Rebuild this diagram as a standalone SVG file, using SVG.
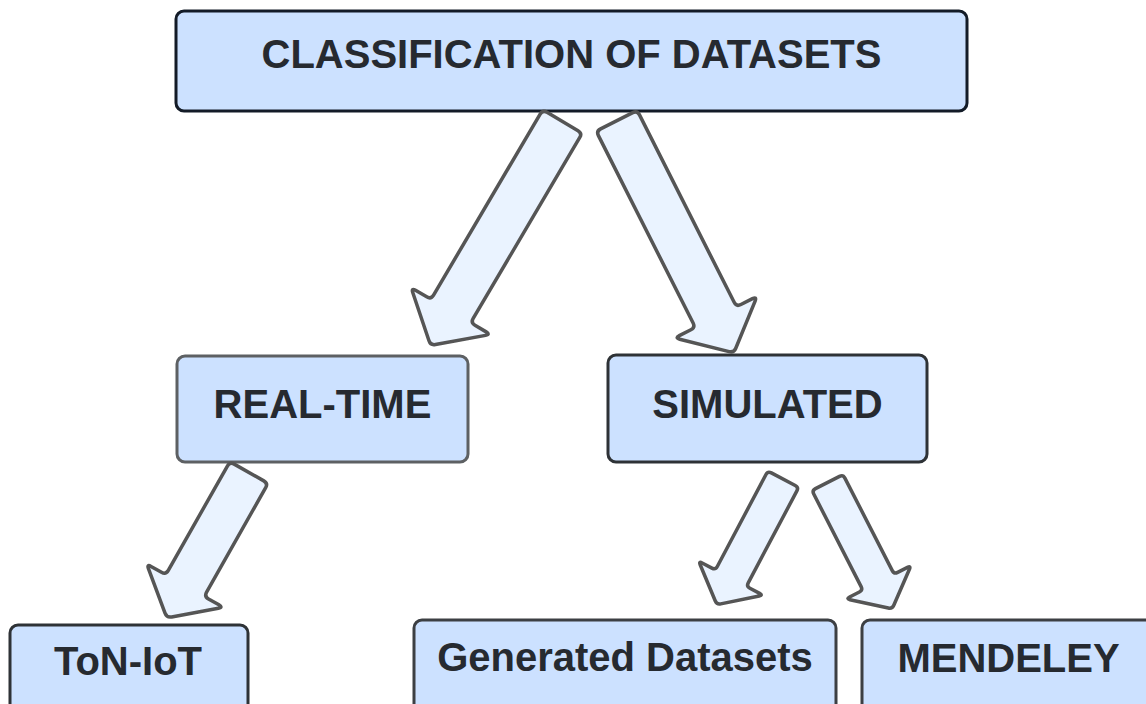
<svg xmlns="http://www.w3.org/2000/svg" width="1146" height="704" viewBox="0 0 1146 704">
  <style>
    .box { fill: #cce1ff; stroke-width: 3; }
    .label { font-family: "Liberation Sans", Arial, sans-serif; font-weight: bold; font-size: 40px; fill: #262a30; text-anchor: middle; }
    .arrow { fill: #eaf3ff; stroke: #555555; stroke-width: 3.5; stroke-linejoin: round; }
  </style>
  <defs>
    <!-- block arrows, drawn pointing along +y with the tail centred on the origin -->
    <path id="arrow-lg" d="M -18,0 L 18,0 Q 23,0 23,5 L 23,215 Q 23,220 28,220 L 41,220 Q 46,220 42.26,223.32 L 3.74,256.68 Q 0,260 -3.74,256.68 L -42.26,223.32 Q -46,220 -41,220 L -28,220 Q -23,220 -23,215 L -23,5 Q -23,0 -18,0 Z"/>
    <path id="arrow-md" d="M -17,0 L 17,0 Q 22,0 22,5 L 22,125 Q 22,130 27,130 L 39,130 Q 44,130 40.17,133.22 L 3.83,163.78 Q 0,167 -3.83,163.78 L -40.17,133.22 Q -44,130 -39,130 L -27,130 Q -22,130 -22,125 L -22,5 Q -22,0 -17,0 Z"/>
    <path id="arrow-sm" d="M -13.5,0 L 13.5,0 Q 17.5,0 17.5,4 L 17.5,108 Q 17.5,112 21.5,112 L 32.5,112 Q 36.5,112 33.41,114.54 L 3.09,139.46 Q 0,142 -3.09,139.46 L -33.41,114.54 Q -36.5,112 -32.5,112 L -21.5,112 Q -17.5,112 -17.5,108 L -17.5,4 Q -17.5,0 -13.5,0 Z"/>
  </defs>

  <rect width="1146" height="704" fill="#ffffff"/>

  <g id="node-classification">
    <rect class="box" x="176" y="11" width="791" height="100" rx="8" stroke="#131b27"/>
    <text class="label" x="571.5" y="68">CLASSIFICATION OF DATASETS</text>
  </g>

  <g id="node-real-time">
    <rect class="box" x="177" y="356" width="291" height="106" rx="8" stroke="#5d6063"/>
    <text class="label" x="322.5" y="418">REAL-TIME</text>
  </g>

  <g id="node-simulated">
    <rect class="box" x="608" y="355" width="319" height="107" rx="8" stroke="#2e3236"/>
    <text class="label" x="767.5" y="418">SIMULATED</text>
  </g>

  <g id="node-ton-iot">
    <rect class="box" x="10" y="625" width="238" height="100" rx="8" stroke="#2e3236"/>
    <text class="label" x="128" y="675">ToN-IoT</text>
  </g>

  <g id="node-generated">
    <rect class="box" x="414" y="620" width="422" height="100" rx="8" stroke="#3c3f43"/>
    <text class="label" x="625" y="671">Generated Datasets</text>
  </g>

  <g id="node-mendeley">
    <rect class="box" x="862" y="620" width="300" height="100" rx="8" stroke="#3c3f43"/>
    <text class="label" x="1008.5" y="672">MENDELEY</text>
  </g>

  <g id="connectors">
    <use href="#arrow-lg" class="arrow" transform="translate(562.5,121.5) rotate(30.5)"/>
    <use href="#arrow-lg" class="arrow" transform="translate(616.7,120.8) rotate(-26.8)"/>
    <use href="#arrow-md" class="arrow" transform="translate(249,472.5) rotate(29.5)"/>
    <use href="#arrow-sm" class="arrow" transform="translate(783.3,479.2) rotate(27.9)"/>
    <use href="#arrow-sm" class="arrow" transform="translate(827.5,482.5) rotate(-27.1)"/>
  </g>
</svg>
